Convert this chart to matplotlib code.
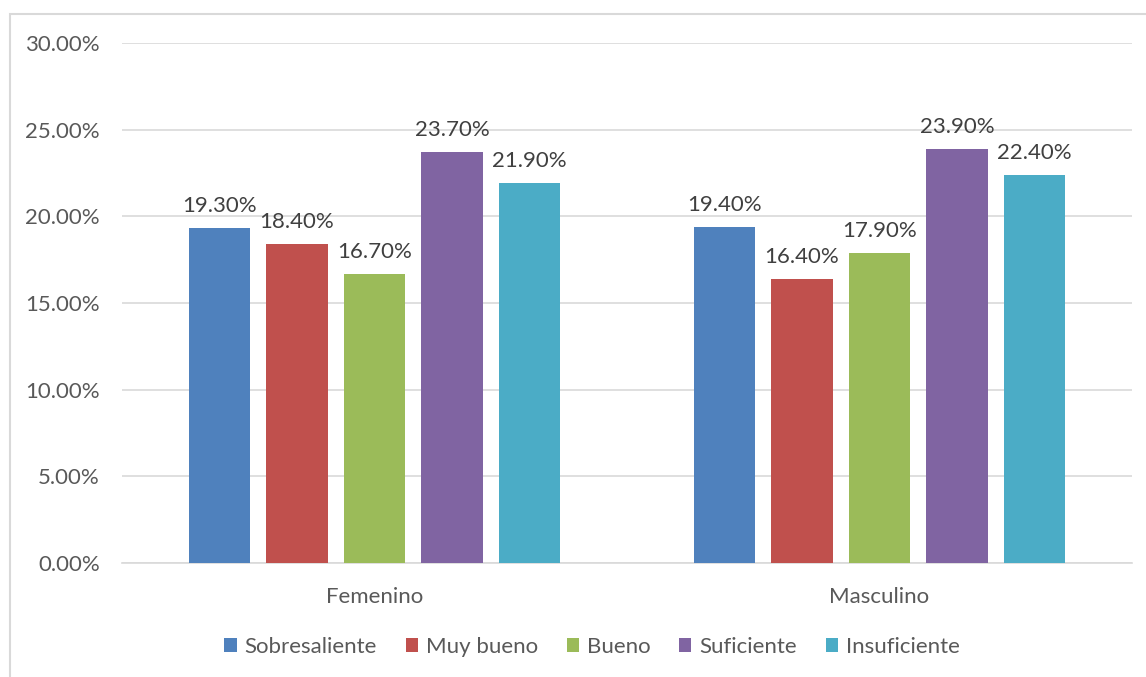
import matplotlib
matplotlib.use('Agg')
import matplotlib.pyplot as plt
from matplotlib.patches import Rectangle
from matplotlib.ticker import FuncFormatter

categories = ['Femenino', 'Masculino']
series = ['Sobresaliente', 'Muy bueno', 'Bueno', 'Suficiente', 'Insuficiente']
values = {
    'Sobresaliente': [19.3, 19.4],
    'Muy bueno': [18.4, 16.4],
    'Bueno': [16.7, 17.9],
    'Suficiente': [23.7, 23.9],
    'Insuficiente': [21.9, 22.4],
}
colors = ['#4F81BD', '#C0504D', '#9BBB59', '#8064A2', '#4BACC6']

text_color = '#595959'
fs = 16
plt.rcParams['font.family'] = ['Lato', 'DejaVu Sans']

W, H = 1146, 677
fig = plt.figure(figsize=(W / 100, H / 100), dpi=100)
ax = fig.add_axes([122 / W, 114 / H, (1132 - 122) / W, (634 - 114) / H])

# outer chart frame (cropped on right/bottom)
fig.patches.append(Rectangle((10 / W, -0.1), 1.2, (663 + 0.1 * H) / H, transform=fig.transFigure,
                             fill=False, edgecolor='#D9D9D9', linewidth=1.5))

width = 0.1225
step = 0.1535
x = range(len(categories))
for i, (name, color) in enumerate(zip(series, colors)):
    offs = (i - 2) * step
    xs = [c + offs for c in x]
    bars = ax.bar(xs, values[name], width=width, color=color, label=name, zorder=3)
    for b, v in zip(bars, values[name]):
        ax.annotate(f'{v:.2f}%', (b.get_x() + b.get_width() / 2, v), xytext=(0, 11.5),
                    textcoords='offset points', ha='center', va='baseline',
                    fontsize=fs, color='#404040')

ax.set_xlim(-0.5, 1.5)
ax.set_ylim(0, 30)
ax.set_yticks(range(0, 31, 5))
ax.yaxis.set_major_formatter(FuncFormatter(lambda v, p: f'{v:.2f}%'))
ax.set_xticks(list(x))
ax.set_xticklabels(categories)
ax.grid(axis='y', color='#D9D9D9', linewidth=1.2, zorder=0)
for s in ['top', 'right', 'left']:
    ax.spines[s].set_visible(False)
ax.spines['bottom'].set_color('#D9D9D9')
ax.spines['bottom'].set_linewidth(1.2)
ax.tick_params(axis='both', length=0, labelsize=fs, colors=text_color)
ax.tick_params(axis='y', pad=16)
ax.tick_params(axis='x', pad=17)

leg = fig.legend(loc='center', bbox_to_anchor=(592 / W, (677 - 647) / H), ncol=5, frameon=False,
                 fontsize=fs, handlelength=0.55, handleheight=0.55, handletextpad=0.35,
                 columnspacing=1.3, labelcolor=text_color)

fig.savefig('out.png', dpi=100)
